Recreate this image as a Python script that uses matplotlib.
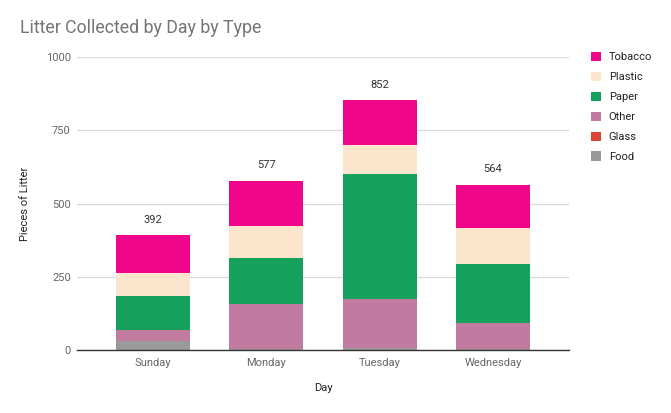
import numpy as np
import matplotlib
matplotlib.use("Agg")
from matplotlib import pyplot as plt
from matplotlib.patches import Patch

plt.rcParams['font.family'] = ['Roboto', 'DejaVu Sans']

days = ['Sunday', 'Monday', 'Tuesday', 'Wednesday']
food = [31, 3, 7, 2]
glass = [0, 0, 0, 0]
other = [37, 154, 166, 90]
paper = [118, 158, 427, 200]
plastic = [78, 107, 100, 126]
tobacco = [128, 155, 152, 146]

series = [
    ('Food', food, '#999999'),
    ('Glass', glass, '#DB4437'),
    ('Other', other, '#C27BA0'),
    ('Paper', paper, '#15A05B'),
    ('Plastic', plastic, '#FCE5CD'),
    ('Tobacco', tobacco, '#F0068A'),
]

fig = plt.figure(figsize=(6.71, 4.13), dpi=100)
ax = fig.add_axes([77 / 671, 63 / 413, 492 / 671, 293 / 413])

x = np.arange(len(days))
bottom = np.zeros(len(days))
for name, vals, color in series:
    vals = np.array(vals, dtype=float)
    ax.bar(x, vals, width=0.65, bottom=bottom, color=color,
           edgecolor='none', zorder=2)
    bottom += vals

for xi, total in zip(x, bottom):
    ax.annotate(f'{int(total)}', (xi, total), xytext=(0, 9),
                textcoords='offset points', ha='center', va='baseline',
                fontsize=8, color='#333333')

ax.set_xlim(-0.67, 3.67)
ax.set_ylim(0, 1000)
ax.set_yticks([0, 250, 500, 750, 1000])
ax.set_xticks(x)
ax.set_xticklabels(days)
ax.tick_params(axis='both', length=0, labelsize=8, labelcolor='#666666')
ax.tick_params(axis='x', pad=6)
ax.tick_params(axis='y', pad=4.5)
ax.grid(axis='y', color='#d9d9d9', linewidth=0.9, zorder=0)
for side in ['top', 'right', 'left']:
    ax.spines[side].set_visible(False)
ax.spines['bottom'].set_color('#333333')
ax.spines['bottom'].set_linewidth(1.0)
ax.spines['bottom'].set_zorder(3)

ax.set_xlabel('Day', fontsize=8, color='#222222', va='center')
ax.set_ylabel('Pieces of Litter', fontsize=8, color='#222222', va='center')
ax.xaxis.set_label_coords(0.5, (350 - 388) / 293)
ax.yaxis.set_label_coords((25 - 77) / 492, 0.5)

fig.text(20 / 671, 1 - 28 / 413, 'Litter Collected by Day by Type',
         fontsize=12.8, color='#757575', va='center', ha='left')

handles = [Patch(facecolor=c, edgecolor='none', label=n)
           for n, _, c in reversed(series)]
fig.legend(handles=handles, loc='upper left',
           bbox_to_anchor=(591 / 671, 1 - 52 / 413), frameon=False,
           fontsize=8, labelcolor='#222222', handlelength=0.9,
           handleheight=0.9, handletextpad=0.7, labelspacing=0.85,
           borderpad=0, borderaxespad=0)

fig.savefig('out.png', dpi=100)
